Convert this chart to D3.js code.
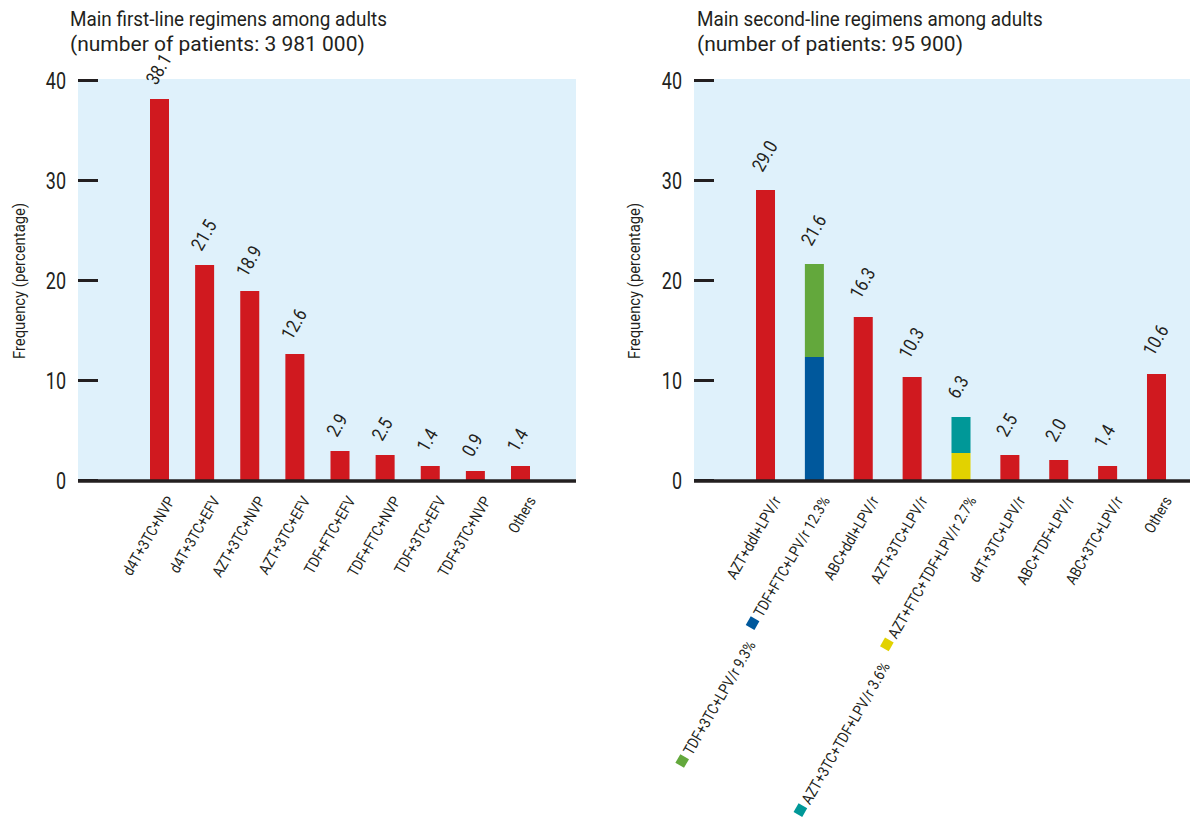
<!DOCTYPE html>
<html><head><meta charset="utf-8">
<script src="https://cdn.jsdelivr.net/npm/d3@7"></script>
<style>
body{margin:0;background:#fff;}
svg{display:block;}
text{fill:#231f20;}
</style></head>
<body>
<svg id="chart" width="1190" height="824"></svg>
<script>
// ---------- data ----------
const leftTitle = ["Main first-line regimens among adults", "(number of patients: 3 981 000)"];
const rightTitle = ["Main second-line regimens among adults", "(number of patients: 95 900)"];
const yTitle = "Frequency (percentage)";
const yTicks = [0, 10, 20, 30, 40];

const firstLineCategories = ["d4T+3TC+NVP","d4T+3TC+EFV","AZT+3TC+NVP","AZT+3TC+EFV","TDF+FTC+EFV","TDF+FTC+NVP","TDF+3TC+EFV","TDF+3TC+NVP","Others"];
const firstLineValues = [38.1, 21.5, 18.9, 12.6, 2.9, 2.5, 1.4, 0.9, 1.4];

const secondLineCategories = ["AZT+ddI+LPV/r","TDF+FTC+LPV/r 12.3%","ABC+ddI+LPV/r","AZT+3TC+LPV/r","AZT+FTC+TDF+LPV/r 2.7%","d4T+3TC+LPV/r","ABC+TDF+LPV/r","ABC+3TC+LPV/r","Others"];
const secondLineValues = [29.0, 21.6, 16.3, 10.3, 6.3, 2.5, 2.0, 1.4, 10.6];
// stacked sub-segments (bottom, top) for split bars
const splitBottomLabels = ["TDF+FTC+LPV/r 12.3%", "AZT+FTC+TDF+LPV/r 2.7%"];
const splitBottomValues = [12.3, 2.7];
const splitTopLabels = ["TDF+3TC+LPV/r 9.3%", "AZT+3TC+TDF+LPV/r 3.6%"];
const splitTopValues = [9.3, 3.6];
const splitBottomColors = ["#00589c", "#e2d200"];
const splitTopColors = ["#63a83c", "#009898"];

// ---------- style ----------
const RED = "#d0191f", BG = "#dff1fb", DARK = "#231f20";
const FONT = "Roboto, 'Noto Sans', sans-serif";

const svg = d3.select("#chart");

function panel(opt) {
  const g = svg.append("g");
  const y = d3.scaleLinear().domain([0, 40]).range([480, 80]);
  const x = d3.scaleBand().domain(opt.categories).range(opt.bandRange).paddingInner(opt.padIn).paddingOuter(0);

  // background
  g.append("rect").attr("x", opt.x0).attr("y", y(40) - 1).attr("width", opt.x1 - opt.x0).attr("height", y(0) - y(40) + 1).attr("fill", BG);

  // title (condensed via horizontal scale)
  const titleScales = [0.9, 1.0];
  opt.title.forEach((s, i) => {
    g.append("text").attr("transform", `scale(${titleScales[i]},1)`)
      .attr("x", opt.titleX / titleScales[i]).attr("y", 26 + i * 25)
      .style("font-family", FONT).style("font-size", "21px").text(s);
  });

  // y axis
  const ks = 0.75;
  const ax = g.append("g").attr("transform", `translate(${opt.x0 + 20},0)`)
    .call(d3.axisLeft(y).tickValues(yTicks).tickSizeInner(20).tickSizeOuter(0).tickPadding(12).tickFormat(d3.format("d")));
  ax.select(".domain").remove();
  ax.selectAll(".tick line").attr("stroke", DARK).attr("stroke-width", 3);
  ax.selectAll(".tick text").attr("fill", DARK).style("font-family", FONT).style("font-size", "24px")
    .attr("dy", "0.36em").attr("x", -32 / ks).attr("transform", `scale(${ks},1)`);

  g.append("text").attr("transform", `translate(${opt.yTitleX},281) rotate(-90) scale(0.9,1)`)
    .attr("text-anchor", "middle").style("font-family", FONT).style("font-size", "16.5px").text(yTitle);

  const cs = 0.86, cfs = "15.5px";
  // bars
  opt.values.forEach((v, i) => {
    const c = opt.categories[i];
    const si = opt.splitIndex ? opt.splitIndex.indexOf(i) : -1;
    if (si >= 0) {
      const b = splitBottomValues[si], tp = splitTopValues[si];
      g.append("rect").attr("x", x(c)).attr("width", x.bandwidth())
        .attr("y", y(b)).attr("height", y(0) - y(b) + (si === 1 ? 2 : 0)).attr("fill", splitBottomColors[si]);
      g.append("rect").attr("x", x(c)).attr("width", x.bandwidth())
        .attr("y", y(b + tp)).attr("height", y(b) - y(b + tp)).attr("fill", splitTopColors[si]);
    } else {
      g.append("rect").attr("x", x(c)).attr("width", x.bandwidth())
        .attr("y", y(v)).attr("height", y(0) - y(v)).attr("fill", RED);
    }
    const cx = x(c) + x.bandwidth() / 2;
    // value label
    g.append("text").attr("transform", `translate(${cx - 3},${y(v) - opt.valOff}) rotate(-60) scale(0.85,1)`)
      .style("font-family", FONT).style("font-size", "19px").text(v.toFixed(1));
    // category label
    const lg = g.append("g").attr("transform", `translate(${cx},490) rotate(-60)`);
    const lt = lg.append("text").attr("transform", `scale(${cs},1)`).attr("x", -1 / cs).attr("y", 19).attr("text-anchor", "end")
      .style("font-family", FONT).style("font-size", cfs).text(c);
    if (si >= 0) {
      const L = lt.node().getComputedTextLength() * cs;
      const rx = -1 - L - 4 - 10;
      lg.append("rect").attr("x", rx).attr("y", 8).attr("width", 10).attr("height", 10).attr("fill", splitBottomColors[si]);
      const t2 = lg.append("text").attr("transform", `scale(${cs},1)`).attr("x", (rx - 12) / cs).attr("y", 27).attr("text-anchor", "end")
        .style("font-family", FONT).style("font-size", cfs).text(splitTopLabels[si]);
      const L2 = t2.node().getComputedTextLength() * cs;
      lg.append("rect").attr("x", rx - 12 - L2 - 4 - 10).attr("y", 16).attr("width", 10).attr("height", 10).attr("fill", splitTopColors[si]);
    }
  });

  // baseline
  g.append("line").attr("x1", opt.x0).attr("x2", opt.x1).attr("y1", y(0) + 1).attr("y2", y(0) + 1)
    .attr("stroke", DARK).attr("stroke-width", 3.5);
}

panel({
  title: leftTitle, titleX: 70, yTitleX: 25,
  x0: 78, x1: 576, categories: firstLineCategories, values: firstLineValues,
  bandRange: [150, 530], padIn: 0.579, valOff: 13
});
panel({
  title: rightTitle, titleX: 697, yTitleX: 640,
  x0: 694, x1: 1190, categories: secondLineCategories, values: secondLineValues,
  bandRange: [756, 1166], padIn: 0.611, valOff: 17, splitIndex: [1, 4]
});
</script>
</body></html>
